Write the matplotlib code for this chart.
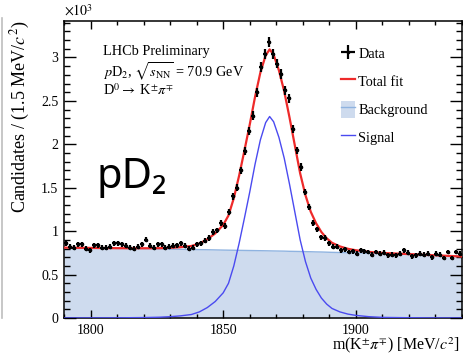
import numpy as np
import matplotlib
matplotlib.use("Agg")
import matplotlib.pyplot as plt
from matplotlib.lines import Line2D
from matplotlib.patches import Patch
from matplotlib.ticker import MultipleLocator, FormatStrFormatter

# bin centres (1.5 MeV bins from 1790 to 1940) and candidates (x10^3)
m_lo, bin_w, n_bins = 1790.0, 1.5, 100
counts = [0.86, 0.82, 0.81, 0.85, 0.85, 0.80, 0.78, 0.84, 0.84, 0.81,
          0.81, 0.82, 0.86, 0.86, 0.85, 0.83, 0.81, 0.80, 0.82, 0.85,
          0.90, 0.83, 0.81, 0.85, 0.85, 0.81, 0.82, 0.83, 0.84, 0.86,
          0.83, 0.80, 0.81, 0.85, 0.86, 0.89, 0.92, 0.99, 1.01, 1.09,
          1.06, 1.22, 1.40, 1.50, 1.70, 1.92, 2.15, 2.33, 2.60, 2.89,
          3.04, 3.18, 3.04, 2.93, 2.81, 2.62, 2.53, 2.18, 1.93, 1.74,
          1.45, 1.28, 1.09, 1.02, 0.93, 0.92, 0.86, 0.82, 0.82, 0.78,
          0.79, 0.76, 0.77, 0.74, 0.78, 0.77, 0.76, 0.73, 0.76, 0.74,
          0.75, 0.72, 0.73, 0.72, 0.74, 0.78, 0.75, 0.71, 0.72, 0.74,
          0.73, 0.74, 0.70, 0.74, 0.73, 0.69, 0.76, 0.69, 0.76, 0.74]

# fit curves
m_fit = [1790, 1800, 1810, 1820, 1826, 1830, 1834, 1838, 1841, 1844, 1847,
         1850, 1852, 1854, 1856, 1858, 1860, 1862, 1864, 1866, 1867.5, 1869,
         1871, 1873, 1875, 1877, 1879, 1881, 1883, 1885, 1887, 1889, 1891,
         1894, 1897, 1900, 1905, 1910, 1920, 1930, 1940]
bkg = [0.810, 0.806, 0.802, 0.798, 0.795, 0.793, 0.791, 0.789, 0.787, 0.786, 0.784,
       0.782, 0.781, 0.780, 0.779, 0.778, 0.777, 0.776, 0.775, 0.774, 0.773, 0.772,
       0.771, 0.770, 0.768, 0.767, 0.766, 0.764, 0.763, 0.761, 0.760, 0.758, 0.756,
       0.754, 0.752, 0.750, 0.746, 0.742, 0.733, 0.721, 0.708]
sig = [0.000, 0.001, 0.002, 0.005, 0.009, 0.015, 0.025, 0.040, 0.070, 0.120, 0.190,
       0.290, 0.400, 0.600, 0.860, 1.150, 1.450, 1.770, 2.050, 2.250, 2.320, 2.260,
       2.080, 1.840, 1.540, 1.220, 0.900, 0.650, 0.460, 0.330, 0.230, 0.160, 0.110,
       0.070, 0.045, 0.030, 0.015, 0.007, 0.003, 0.001, 0.000]
tot = [0.810, 0.807, 0.804, 0.803, 0.804, 0.808, 0.816, 0.829, 0.857, 0.906, 0.974,
       1.072, 1.181, 1.380, 1.639, 1.928, 2.227, 2.546, 2.825, 3.024, 3.093, 3.032,
       2.851, 2.610, 2.308, 1.987, 1.666, 1.414, 1.223, 1.091, 0.990, 0.918, 0.866,
       0.824, 0.797, 0.780, 0.761, 0.749, 0.736, 0.722, 0.708]

plt.rcParams['font.family'] = ['Liberation Serif', 'DejaVu Serif']
plt.rcParams['mathtext.fontset'] = 'stix'

W, H = 463, 356
fig = plt.figure(figsize=(W / 100, H / 100), dpi=100)
ax = fig.add_axes([64 / W, 1 - 318 / H, 398 / W, 297 / H])

centres = m_lo + bin_w * (np.arange(n_bins) + 0.5)
yerr = np.sqrt(np.array(counts) * 1000) / 1000

bkg_col = '#cedbee'
red = '#ee2a2a'
blue = '#4a4af0'
ax.fill_between(m_fit, 0, bkg, color=bkg_col, lw=0, zorder=1)
ax.plot(m_fit, bkg, color='#8fb3e0', lw=1, zorder=2)
ax.plot(m_fit, sig, color=blue, lw=1, zorder=3)
ax.plot(m_fit, tot, color=red, lw=1.6, zorder=4)
ax.errorbar(centres, counts, yerr=yerr, xerr=bin_w / 2, fmt='o', ms=1.6,
            color='black', elinewidth=1.6, capsize=0, zorder=5)

ax.set_xlim(1790, 1940)
ax.set_ylim(0, 3.42)
ax.xaxis.set_major_locator(MultipleLocator(50))
ax.xaxis.set_minor_locator(MultipleLocator(10))
ax.yaxis.set_major_locator(MultipleLocator(0.5))
ax.yaxis.set_minor_locator(MultipleLocator(0.1))
ax.yaxis.set_major_formatter(FormatStrFormatter('%g'))
ax.tick_params(axis='both', which='both', direction='in', top=True, right=True,
               labelsize=10, width=1, pad=4)
ax.tick_params(axis='y', which='major', length=8.5)
ax.tick_params(axis='y', which='minor', length=4.3)
ax.tick_params(axis='x', which='major', length=6)
ax.tick_params(axis='x', which='minor', length=3)
for s in ax.spines.values():
    s.set_linewidth(1.1)

ax.set_ylabel(r'Candidates / (1.5 MeV/$c^2$)', fontsize=13, loc='top')
ax.yaxis.set_label_coords(-0.08, 1.0)
ax.set_xlabel(r'm(K$^{\pm}\pi^{\mp}$) [MeV/$c^2$]', fontsize=11.5, loc='right')
ax.xaxis.set_label_coords(0.994, -0.058)

fig.text(64 / W, 1 - 16 / H, r'$\times10^3$', fontsize=10, va='baseline')

def fx(px):
    return px / W

def fy(py):
    return 1 - py / H

fig.text(fx(103), fy(55), 'LHCb Preliminary', fontsize=10.3, va='baseline')
fig.text(fx(103), fy(77), r'$p$D$_2$, $\sqrt{s_{\rm NN}}$ = 70.9 GeV', fontsize=10.3,
         va='baseline')
fig.text(fx(103), fy(95), r'D$^0\rightarrow$ K$^{\pm}\pi^{\mp}$', fontsize=10.3,
         va='baseline')
fig.text(fx(96), fy(188), 'pD₂', fontsize=30, va='baseline',
         family=['Noto Sans', 'DejaVu Sans'])

h_data = ax.errorbar([], [], yerr=[], xerr=[], fmt='o', ms=1.6, color='black',
                     elinewidth=1.6, capsize=0)
h_tot = Line2D([], [], color=red, lw=1.6)
h_bkg = (Patch(facecolor=bkg_col, edgecolor='none'), Line2D([], [], color='#8fb3e0', lw=1))
h_sig = Line2D([], [], color=blue, lw=1)
leg = ax.legend([h_data, h_tot, h_bkg, h_sig], ['Data', 'Total fit', 'Background', 'Signal'],
                loc='upper left', bbox_to_anchor=(fx(341), fy(45)),
                bbox_transform=fig.transFigure, frameon=False, fontsize=10.3,
                handlelength=0.95, handleheight=1.5, handletextpad=0.25,
                labelspacing=0.72, borderpad=0, borderaxespad=0)

fig.add_artist(Line2D([2 / W, 2 / W], [fy(18), fy(318)], color='#bdbdbd', lw=1.2))

fig.savefig('out.png', dpi=100)
